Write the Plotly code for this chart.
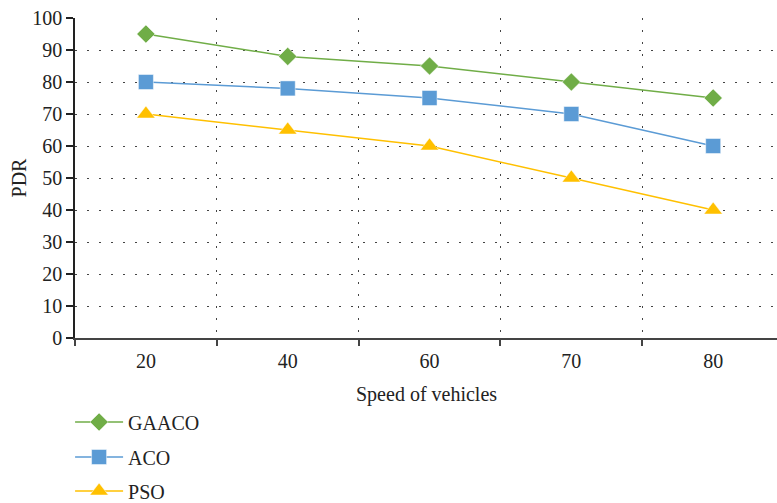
import plotly.graph_objects as go

speeds = ["20", "40", "60", "70", "80"]
gaaco = [95, 88, 85, 80, 75]
aco = [80, 78, 75, 70, 60]
pso = [70, 65, 60, 50, 40]

FONT = "Liberation Serif"
fig = go.Figure()
series = [
    ("GAACO", gaaco, "#70AD47", "diamond", 14, "legend"),
    ("ACO", aco, "#5B9BD5", "square", 15, "legend2"),
    ("PSO", pso, "#FFC000", "triangle-up", 16, "legend3"),
]
for name, vals, col, sym, sz, lg in series:
    fig.add_trace(go.Scatter(
        x=speeds, y=vals, name=name, mode="lines+markers",
        line=dict(color=col, width=1.5),
        marker=dict(symbol=sym, size=sz, color=col, line=dict(width=0.8, color="rgba(255,255,255,0.6)")),
        legend=lg,
    ))

legend_common = dict(font=dict(family=FONT, size=20, color="#222"), bgcolor="rgba(0,0,0,0)",
                     xanchor="left", yanchor="middle", x=-0.007, yref="container", itemwidth=48)
fig.update_layout(
    width=777, height=503,
    showlegend=True,
    margin=dict(l=75, r=0, t=18, b=165, autoexpand=False),
    plot_bgcolor="white", paper_bgcolor="white",
    font=dict(family=FONT, size=20, color="#222"),
    legend=dict(**legend_common, y=1 - 422 / 503),
    legend2=dict(**legend_common, y=1 - 457 / 503),
    legend3=dict(**legend_common, y=1 - 491 / 503),
    xaxis=dict(
        type="category", range=[-0.5, 4.45], tickson="boundaries",
        showgrid=True, gridcolor="#444", griddash="2px,10px", gridwidth=1,
        showline=True, linecolor="#444", linewidth=1.5,
        ticks="outside", ticklen=6, tickcolor="#444", tickwidth=1.5,
        ticklabelstandoff=4,
    ),
    yaxis=dict(
        range=[0, 100], dtick=10,
        showgrid=True, gridcolor="#444", griddash="2px,10px", gridwidth=1,
        showline=True, linecolor="#222", linewidth=1.5,
        ticks="outside", ticklen=7, tickcolor="#222", tickwidth=1.5,
        zeroline=False,
        title=dict(text="PDR", font=dict(size=20), standoff=0),
    ),
    annotations=[dict(text="Speed of vehicles", x=0.5, xref="paper", y=-56 / 320, yref="paper",
                      xanchor="center", yanchor="middle", showarrow=False,
                      font=dict(family=FONT, size=20, color="#222"))],
)
fig.write_html("out.html")
